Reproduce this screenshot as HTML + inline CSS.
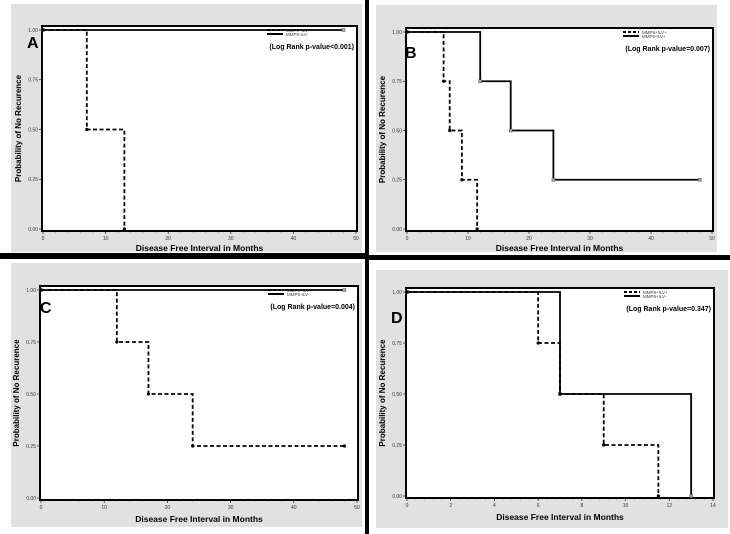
<!DOCTYPE html>
<html><head><meta charset="utf-8"><style>
html,body{margin:0;padding:0;background:#fff;}
svg{display:block;font-family:"Liberation Sans",sans-serif;}
</style></head><body>
<svg id="fig" width="730" height="534" viewBox="0 0 730 534"></svg>
<script>
const panelLetters = ["A","B","C","D"];
const pValues = ["(Log Rank p-value<0.001)","(Log Rank p-value=0.007)","(Log Rank p-value=0.004)","(Log Rank p-value=0.347)"];
const legendDashed = ["MMP9+ILV-","MMP9+ILV+","MMP9+ILV+","MMP9+ILV+"];
const legendSolid = ["MMP9-ILV-","MMP9-ILV+","MMP9-ILV-","MMP9+ILV-"];
const xMaxes = [50,50,50,14];
const xTickStep = [10,10,10,2];
const yTicks = [0,0.25,0.5,0.75,1];
const dashedTimes = [[0,7,13],[0,6,7,9,11.5],[0,12,17,24,48],[0,6,7,9,11.5]];
const dashedSurv = [[1,0.5,0],[1,0.75,0.5,0.25,0],[1,0.75,0.5,0.25,0.25],[1,0.75,0.5,0.25,0]];
const solidTimes = [[0,48],[0,12,17,24,48],[0,48],[0,7,13]];
const solidSurv = [[1,1],[1,0.75,0.5,0.25,0.25],[1,1],[1,0.5,0]];

const NS="http://www.w3.org/2000/svg";
const svg=document.getElementById('fig');
function mk(tag,attrs,parent){const e=document.createElementNS(NS,tag);for(const k in attrs)e.setAttribute(k,attrs[k]);(parent||svg).appendChild(e);return e;}

const layout=[
 {bg:[11,4,351,248],box:[42,26,357,231],letter:[27,48],tt:20},
 {bg:[376,5,341,247],box:[406,28,713,231],letter:[405,58],tt:20},
 {bg:[11,263,351,264],box:[40,286,358,500],letter:[40,313],tt:22},
 {bg:[376,270,352,258],box:[406,288,714,498],letter:[391,323],tt:22}
];

for(let p=0;p<4;p++){
  const L=layout[p];
  const g=mk('g',{});
  
  
  const bg=mk('rect',{x:L.bg[0],y:L.bg[1],width:L.bg[2],height:L.bg[3],fill:'#e1e1e1'},g);
  
  
  const [x0,y0,x1,y1]=L.box;
  const box=mk('rect',{x:x0,y:y0,width:x1-x0,height:y1-y0,fill:'#fff',stroke:'#000','stroke-width':2},g);
  
  
  const xs=t=>x0+1+(x1-x0-2)*t/xMaxes[p];
  const ys=v=>y1-2-(y1-y0-6)*v;
  for(let t=0;t<=xMaxes[p];t+=xTickStep[p]){
    mk('line',{x1:xs(t),x2:xs(t),y1:y1,y2:y1+3,stroke:'#000','stroke-width':0.6},g);
    const tl=mk('text',{x:xs(t),y:y1+9,'font-size':5,'text-anchor':'middle',fill:'#333'},g);
    tl.textContent=String(t);
    
    
  }
  const minor=xTickStep[p]/5;
  for(let t=0;t<=xMaxes[p]+1e-9;t+=minor){mk('line',{x1:xs(t),x2:xs(t),y1:y1-1,y2:y1+1.5,stroke:'#000','stroke-width':0.4},g);}
  yTicks.forEach(v=>{
    mk('line',{x1:x0-3,x2:x0,y1:ys(v),y2:ys(v),stroke:'#000','stroke-width':0.6},g);
    const yl=mk('text',{x:x0-4,y:ys(v)+1.8,'font-size':5,'text-anchor':'end',fill:'#333'},g);
    yl.textContent=v.toFixed(2);
    
    
  });
  const xt=mk('text',{x:(x0+x1)/2,y:y1+L.tt,'font-size':8.5,'font-weight':'bold','text-anchor':'middle'},g);
  xt.textContent='Disease Free Interval in Months';
  
  
  const cy=(y0+y1)/2, cx=x0-21;
  const yt=mk('text',{x:cx,y:cy,'font-size':8,'font-weight':'bold','text-anchor':'middle',transform:`rotate(-90 ${cx} ${cy})`},g);
  yt.textContent='Probability of No Recurence';
  
  
  const lt=mk('text',{x:L.letter[0],y:L.letter[1],'font-size':16,'font-weight':'bold'},g);
  lt.textContent=panelLetters[p];
  
  
  const pv=mk('text',{x:x1-3,y:y0+23,'font-size':7,'font-weight':'bold','text-anchor':'end'},g);
  pv.textContent=pValues[p];
  
  
  const lx=x1-90, ly=y0+4;
  mk('line',{x1:lx,x2:lx+16,y1:ly,y2:ly,stroke:'#000','stroke-width':2,'stroke-dasharray':'3,2'},g);
  mk('line',{x1:lx,x2:lx+16,y1:ly+4,y2:ly+4,stroke:'#000','stroke-width':2},g);
  const l1=mk('text',{x:lx+19,y:ly+1.8,'font-size':4.5,fill:'#444'},g);
  l1.textContent=legendDashed[p];
  
  
  const l2=mk('text',{x:lx+19,y:ly+5.8,'font-size':4.5,fill:'#444'},g);
  l2.textContent=legendSolid[p];
  
  
  function stepPath(T,S){let d=`M${xs(T[0])},${ys(S[0])}`;for(let i=1;i<T.length;i++){d+=` H${xs(T[i])} V${ys(S[i])}`;}return d;}
  const sp=mk('path',{d:stepPath(solidTimes[p],solidSurv[p]),fill:'none',stroke:'#000','stroke-width':1.8},g);
  
  
  const dp=mk('path',{d:stepPath(dashedTimes[p],dashedSurv[p]),fill:'none',stroke:'#000','stroke-width':1.8,'stroke-dasharray':'4,2.5'},g);
  
  
  solidTimes[p].forEach((t,i)=>{
    const m=mk('rect',{x:xs(t)-1.5,y:ys(solidSurv[p][i])-1.5,width:3,height:3,fill:'#aaa',stroke:'#555','stroke-width':0.5},g);
    
    
  });
  dashedTimes[p].forEach((t,i)=>{
    const m=mk('circle',{cx:xs(t),cy:ys(dashedSurv[p][i]),r:1.6,fill:'#000'},g);
    
    
  });
}
const v=mk('rect',{x:365,y:0,width:4,height:534,fill:'#000'});


const h1=mk('rect',{x:0,y:253,width:369,height:6,fill:'#000'});


const h2=mk('rect',{x:365,y:255,width:365,height:5,fill:'#000'});


</script>
</body></html>
